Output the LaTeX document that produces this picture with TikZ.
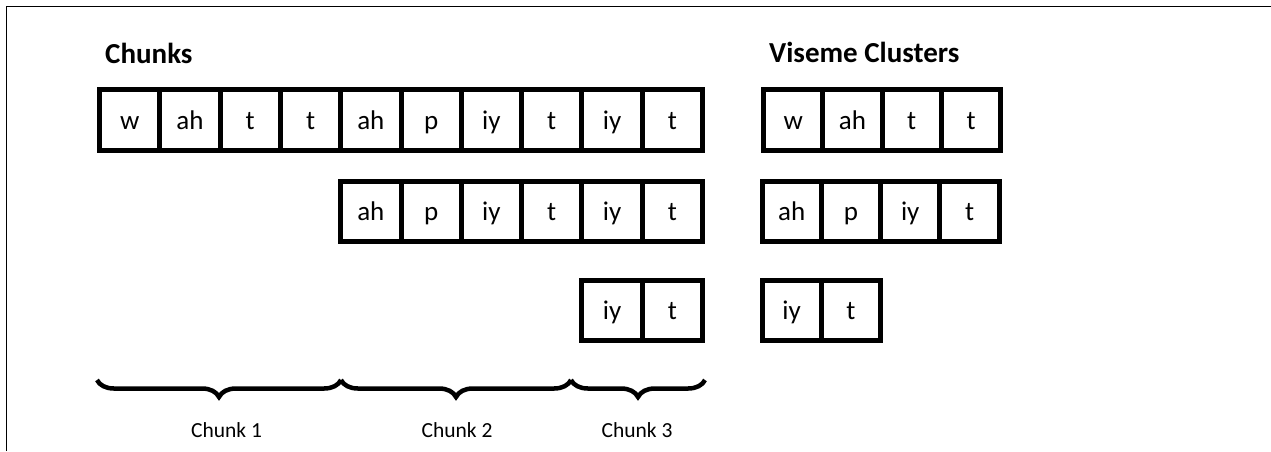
\documentclass[tikz,border=0pt]{standalone}
\usepackage{fontspec}
\setmainfont{Carlito}
\usetikzlibrary{decorations.pathreplacing}
\begin{document}
\begin{tikzpicture}[x=1pt,y=-1pt,
  cellbox/.style={draw=black, line width=5pt, minimum width=60.3pt, minimum height=60.5pt,
    inner sep=0pt, font=\fontsize{27}{27}\selectfont, text height=18.5pt, text depth=0pt},
  vcellbox/.style={cellbox, minimum width=59.3pt},
  titletext/.style={font=\fontsize{29}{29}\selectfont\bfseries, anchor=base west, inner sep=0pt},
  chunklabel/.style={font=\fontsize{21.5}{21.5}\selectfont, anchor=base, inner sep=0pt},
  bracestyle/.style={line width=4.5pt, decorate, decoration={brace, mirror, amplitude=17pt}},
  framestyle/.style={line width=1.5pt}]
\useasboundingbox (0,0) rectangle (1271,451);
% frame
\coordinate (fbl) at (6.5,451);
\coordinate (ftl) at (6.5,6.5);
\coordinate (ftr) at (1271,6.5);
\draw[framestyle] (fbl) -- (ftl) -- (ftr);
% titles
\node[titletext] (tchunks) at (105,63) {Chunks};
\node[titletext] (tvis) at (769,62) {Viseme Clusters};
% chunk rows
\foreach \t [count=\i] in {w,ah,t,t,ah,p,iy,t,iy,t}
  \node[cellbox] (a\i) at ({99.5+60.3*(\i-0.5)},120) {\t};
\foreach \t [count=\i] in {ah,p,iy,t,iy,t}
  \node[cellbox] (b\i) at ({340.7+60.3*(\i-0.5)},211.5) {\t};
\foreach \t [count=\i] in {iy,t}
  \node[cellbox] (c\i) at ({581.9+60.3*(\i-0.5)},310.5) {\t};
% viseme clusters
\foreach \t [count=\i] in {w,ah,t,t}
  \node[vcellbox] (v\i) at ({763.5+59.3*(\i-0.5)},120) {\t};
\foreach \t [count=\i] in {ah,p,iy,t}
  \node[vcellbox] (u\i) at ({762+59.3*(\i-0.5)},211.5) {\t};
\foreach \t [count=\i] in {iy,t}
  \node[vcellbox] (s\i) at ({762+59.3*(\i-0.5)},310.5) {\t};
% braces
\coordinate (br0) at (97,380);
\coordinate (br1) at (341,380);
\coordinate (br2) at (571,380);
\coordinate (br3) at (705,380);
\draw[bracestyle] (br0) -- (br1);
\draw[bracestyle] (br1) -- (br2);
\draw[bracestyle] (br2) -- (br3);
% labels
\node[chunklabel] (l1) at (226.5,437) {Chunk 1};
\node[chunklabel] (l2) at (457,437) {Chunk 2};
\node[chunklabel] (l3) at (637,437) {Chunk 3};
\end{tikzpicture}
\end{document}
